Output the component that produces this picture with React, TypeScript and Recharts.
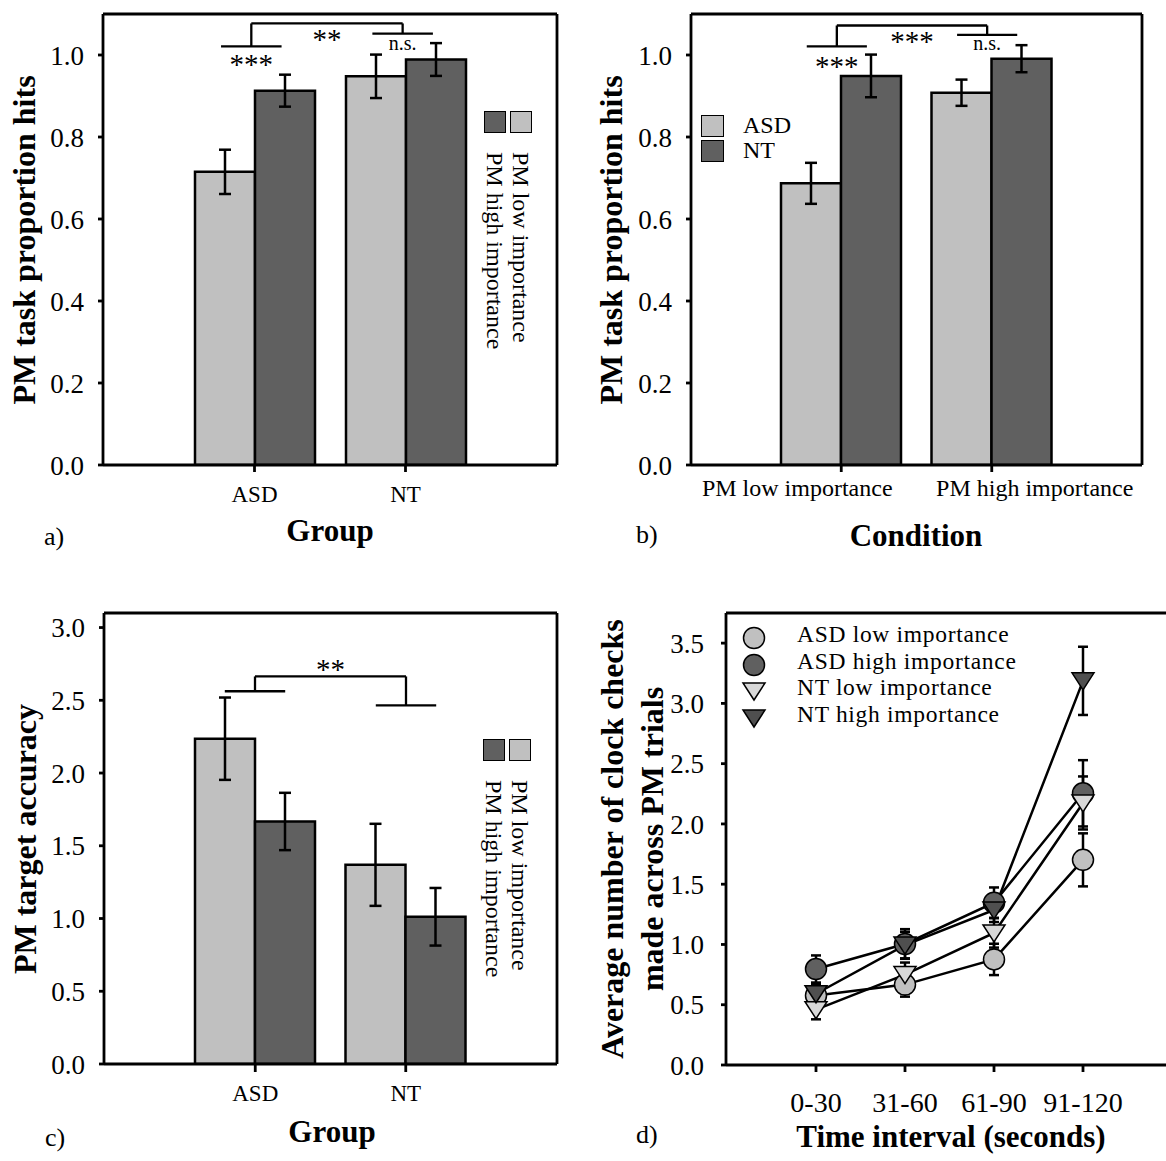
import React from 'react';
import { BarChart, Bar, LineChart, Line, XAxis, YAxis, ErrorBar, ReferenceLine, Legend } from 'recharts';

// a) PM task proportion hits, by group
const groups = ['ASD', 'NT'];
const hitsLowImp = [0.715, 0.948];
const hitsLowImpErr = [0.054, 0.053];
const hitsHighImp = [0.913, 0.989];
const hitsHighImpErr = [0.039, 0.04];

// b) same measure, by condition
const conditions = ['PM low importance', 'PM high importance'];
const hitsAsd = [0.687, 0.908];
const hitsAsdErr = [0.05, 0.032];
const hitsNt = [0.949, 0.991];
const hitsNtErr = [0.052, 0.033];

// c) PM target accuracy, by group
const accLowImp = [2.236, 1.369];
const accLowImpErr = [0.283, 0.282];
const accHighImp = [1.667, 1.012];
const accHighImpErr = [0.197, 0.198];

// d) clock checks per interval
const intervals = ['0-30', '31-60', '61-90', '91-120'];
const asdLow = [0.576, 0.667, 0.876, 1.702];
const asdLowErr = [0.09, 0.1, 0.13, 0.22];
const asdHigh = [0.796, 1.004, 1.347, 2.254];
const asdHighErr = [0.113, 0.123, 0.126, 0.275];
const ntLow = [0.459, 0.75, 1.096, 2.174];
const ntLowErr = [0.08, 0.1, 0.122, 0.22];
const ntHigh = [0.591, 0.995, 1.286, 3.187];
const ntHighErr = [0.09, 0.11, 0.1, 0.283];

const ticksHits = [0, 0.2, 0.4, 0.6, 0.8, 1.0];
const ticksAcc = [0, 0.5, 1, 1.5, 2, 2.5, 3];
const ticksChecks = [0, 0.5, 1, 1.5, 2, 2.5, 3, 3.5];

// significance brackets, in data units of the hidden 0..3 axis (groups sit at 1 and 2)
const bracketA = { left: [0.78, 1.18], leftY: 1.021, mid: [0.98, 1.98], topY: 1.077, right: [1.78, 2.18], rightY: 1.052 };
const bracketB = { left: [0.77, 1.17], leftY: 1.021, mid: [0.97, 1.97], topY: 1.072, right: [1.77, 2.17], rightY: 1.049 };
const bracketC = { left: [0.8, 1.2], leftY: 2.562, mid: [1.0, 2.0], topY: 2.664, right: [1.8, 2.2], rightY: 2.465 };

const dataA = groups.map((g, i) => ({
  group: g, pos: i + 1, low: hitsLowImp[i], lowErr: hitsLowImpErr[i], high: hitsHighImp[i], highErr: hitsHighImpErr[i],
}));
const dataB = conditions.map((c, i) => ({
  cond: c, pos: i + 1, asd: hitsAsd[i], asdErr: hitsAsdErr[i], nt: hitsNt[i], ntErr: hitsNtErr[i],
}));
const dataC = groups.map((g, i) => ({
  group: g, pos: i + 1, low: accLowImp[i], lowErr: accLowImpErr[i], high: accHighImp[i], highErr: accHighImpErr[i],
}));
const dataD = intervals.map((t, i) => ({
  interval: t,
  asdLow: asdLow[i], asdLowErr: asdLowErr[i],
  asdHigh: asdHigh[i], asdHighErr: asdHighErr[i],
  ntLow: ntLow[i], ntLowErr: ntLowErr[i],
  ntHigh: ntHigh[i], ntHighErr: ntHighErr[i],
}));

const FONT = '"Liberation Serif", "Times New Roman", Times, serif';
const LIGHT = '#c0c0c0';
const DARK = '#606060';
const axisStroke = { stroke: '#000', strokeWidth: 2.8 };
const bracketStroke = { stroke: '#000', strokeWidth: 2.3 };
const fmt1 = (v: number) => v.toFixed(1);
const yTick = { fill: '#000', fontSize: 27 };

function VTitle({ lines, x, y, gap = 40 }: { lines: string[]; x: number; y: number; gap?: number }) {
  return (
    <g>
      {lines.map((t, i) => (
        <text key={i} transform={`translate(${x + i * gap},${y}) rotate(-90)`} textAnchor="middle"
          fontSize={32} fontWeight="bold" fill="#000">{t}</text>
      ))}
    </g>
  );
}

function XTitle({ text, x, y, tag, tagX, tagY }: any) {
  return (
    <g>
      <text x={x} y={y} textAnchor="middle" fontSize={31} fontWeight="bold" fill="#000">{text}</text>
      <text x={tagX} y={tagY} fontSize={26} fill="#000">{tag}</text>
    </g>
  );
}

function sortPayload(payload: any[] | undefined, order: string[]) {
  const list = payload || [];
  const items = order.map((k) => list.find((p) => p.dataKey === k)).filter(Boolean);
  return items.length ? items : list;
}

// legend turned 90 degrees clockwise, as in panels a and c
function RotatedLegend({ payload, right, top }: any) {
  const items = sortPayload(payload, ['low', 'high']);
  return (
    <div style={{ position: 'absolute', left: right, top, transform: 'rotate(90deg)', transformOrigin: '0 0', whiteSpace: 'nowrap' }}>
      {items.map((it: any) => (
        <div key={String(it.dataKey)} style={{ display: 'flex', alignItems: 'center', height: 26 }}>
          <div style={{ flexShrink: 0, width: 22, height: 22, boxSizing: 'border-box', border: '1.5px solid #000', background: it.color }} />
          <span style={{ marginLeft: 19, fontSize: 24, lineHeight: '26px', color: '#000' }}>{it.value}</span>
        </div>
      ))}
    </div>
  );
}

function SwatchLegend({ payload }: any) {
  const items = sortPayload(payload, ['asd', 'nt']);
  return (
    <div style={{ position: 'absolute', left: 121, top: 113, whiteSpace: 'nowrap' }}>
      {items.map((it: any) => (
        <div key={String(it.dataKey)} style={{ display: 'flex', alignItems: 'center', height: 25 }}>
          <div style={{ flexShrink: 0, width: 23, height: 22, boxSizing: 'border-box', border: '1.5px solid #000', background: it.color }} />
          <span style={{ marginLeft: 19, fontSize: 24, lineHeight: '25px', color: '#000' }}>{it.value}</span>
        </div>
      ))}
    </div>
  );
}

const seriesD = [
  { key: 'asdLow', name: 'ASD low importance', fill: LIGHT, shape: 'circle' },
  { key: 'asdHigh', name: 'ASD high importance', fill: DARK, shape: 'circle' },
  { key: 'ntLow', name: 'NT low importance', fill: '#d8d8d8', shape: 'tri' },
  { key: 'ntHigh', name: 'NT high importance', fill: '#4f4f4f', shape: 'tri' },
];

function Marker({ shape, fill, cx, cy }: any) {
  if (shape === 'circle') return <circle cx={cx} cy={cy} r={10.5} fill={fill} stroke="#000" strokeWidth={1.5} />;
  return <path d={`M${cx - 11},${cy - 8} L${cx + 11},${cy - 8} L${cx},${cy + 9} Z`} fill={fill} stroke="#000" strokeWidth={1.5} />;
}

function MarkerLegend({ payload }: any) {
  const items = sortPayload(payload, seriesD.map((s) => s.key));
  return (
    <div style={{ position: 'absolute', left: 160, top: 45, whiteSpace: 'nowrap' }}>
      {items.map((it: any) => {
        const s = seriesD.find((d) => d.key === it.dataKey) || seriesD[0];
        return (
          <div key={s.key} style={{ display: 'flex', alignItems: 'center', height: 26.5 }}>
            <svg width={28} height={26} style={{ flexShrink: 0 }}>
              <Marker shape={s.shape} fill={s.fill} cx={14} cy={13} />
            </svg>
            <span style={{ marginLeft: 29, fontSize: 23.5, letterSpacing: 0.7, lineHeight: '26px', position: 'relative', top: -4, color: '#000' }}>{it.value}</span>
          </div>
        );
      })}
    </div>
  );
}

function bracketLines(b: any, labels: { left?: any; top?: any; right?: any }) {
  const seg = (x1: number, y1: number, x2: number, y2: number) => [{ x: x1, y: y1 }, { x: x2, y: y2 }];
  const common = { xAxisId: 'num', ifOverflow: 'visible' as const, ...bracketStroke };
  return [
    <ReferenceLine key="bl" {...common} segment={seg(b.left[0], b.leftY, b.left[1], b.leftY)} label={labels.left} />,
    <ReferenceLine key="bv1" {...common} segment={seg(b.mid[0], b.leftY, b.mid[0], b.topY)} />,
    <ReferenceLine key="bt" {...common} segment={seg(b.mid[0], b.topY, b.mid[1], b.topY)} label={labels.top} />,
    <ReferenceLine key="bv2" {...common} segment={seg(b.mid[1], b.topY, b.mid[1], b.rightY)} />,
    <ReferenceLine key="br" {...common} segment={seg(b.right[0], b.rightY, b.right[1], b.rightY)} label={labels.right} />,
  ];
}

const stars = (value: string, position: string, offset: number) => ({ value, position, offset, fontSize: 29, fill: '#000' });
const ns = (offset: number) => ({ value: 'n.s.', position: 'bottom', offset, fontSize: 20, fill: '#000' });

// hidden numeric axis on top (0..3, groups at 1 and 2) that also draws the frame's top edge
function frameAxes(domainY: [number, number]) {
  return [
    <XAxis key="num" xAxisId="num" dataKey="pos" type="number" orientation="top" domain={[0, 3]} allowDataOverflow height={1}
      tick={false} tickLine={false} axisLine={axisStroke} />,
    <YAxis key="r" yAxisId="r" orientation="right" width={1} domain={domainY} tick={false} tickLine={false} axisLine={axisStroke} />,
  ];
}

function PanelA() {
  return (
    <BarChart width={580} height={580} data={dataA} margin={{ top: 13, right: 22, left: 0, bottom: 0 }} barGap={0}>
      <XAxis dataKey="group" scale="band" padding={{ left: 76, right: 76 }} height={115}
        tick={{ fill: '#000', fontSize: 23 }} tickSize={7} tickMargin={14} tickLine={axisStroke} axisLine={axisStroke}
        label={() => <XTitle text="Group" x={330} y={541} tag="a)" tagX={44} tagY={545} />} />
      <YAxis width={103} domain={[0, 1.1]} allowDataOverflow ticks={ticksHits} tickFormatter={fmt1}
        tick={yTick} tickSize={5} tickMargin={14} tickLine={axisStroke} axisLine={axisStroke}
        label={() => <VTitle lines={['PM task proportion hits']} x={35} y={240} />} />
      {frameAxes([0, 1.1])}
      <Bar dataKey="low" name="PM low importance" fill={LIGHT} stroke="#000" strokeWidth={2.5} barSize={60} isAnimationActive={false}>
        <ErrorBar dataKey="lowErr" width={6} stroke="#000" strokeWidth={2.5} />
      </Bar>
      <Bar dataKey="high" name="PM high importance" fill={DARK} stroke="#000" strokeWidth={2.5} barSize={60} isAnimationActive={false}>
        <ErrorBar dataKey="highErr" width={6} stroke="#000" strokeWidth={2.5} />
      </Bar>
      {bracketLines(bracketA, { left: stars('***', 'bottom', 7), top: stars('**', 'bottom', 5), right: ns(2) })}
      <Legend layout="horizontal" verticalAlign="middle" align="center" wrapperStyle={{ left: 0, top: 0, width: 0, height: 0 }}
        content={(p: any) => <RotatedLegend payload={p.payload} right={534} top={111} />} />
    </BarChart>
  );
}

const tickShiftB = [-44, 43]; // the long condition labels sit apart from their ticks

function PanelB() {
  return (
    <BarChart width={586} height={580} data={dataB} margin={{ top: 13, right: 23, left: 0, bottom: 0 }} barGap={0}>
      <XAxis dataKey="cond" scale="band" padding={{ left: 75, right: 75 }} height={115}
        tickSize={7} tickMargin={7} tickLine={axisStroke} axisLine={axisStroke}
        tick={(p: any) => (
          <text x={p.x + (tickShiftB[p.index] || 0)} y={p.y} dy="0.71em" textAnchor="middle" fontSize={24} fill="#000">
            {p.payload.value}
          </text>
        )}
        label={() => <XTitle text="Condition" x={336} y={546} tag="b)" tagX={56} tagY={543} />} />
      <YAxis width={111} domain={[0, 1.1]} allowDataOverflow ticks={ticksHits} tickFormatter={fmt1}
        tick={yTick} tickSize={5} tickMargin={14} tickLine={axisStroke} axisLine={axisStroke}
        label={() => <VTitle lines={['PM task proportion hits']} x={42} y={240} />} />
      {frameAxes([0, 1.1])}
      <Bar dataKey="asd" name="ASD" fill={LIGHT} stroke="#000" strokeWidth={2.5} barSize={60} isAnimationActive={false}>
        <ErrorBar dataKey="asdErr" width={6} stroke="#000" strokeWidth={2.5} />
      </Bar>
      <Bar dataKey="nt" name="NT" fill={DARK} stroke="#000" strokeWidth={2.5} barSize={60} isAnimationActive={false}>
        <ErrorBar dataKey="ntErr" width={6} stroke="#000" strokeWidth={2.5} />
      </Bar>
      {bracketLines(bracketB, { left: stars('***', 'bottom', 9), top: stars('***', 'bottom', 5), right: ns(1) })}
      <Legend layout="horizontal" verticalAlign="middle" align="center" wrapperStyle={{ left: 0, top: 0, width: 0, height: 0 }}
        content={(p: any) => <SwatchLegend payload={p.payload} />} />
    </BarChart>
  );
}

function PanelC() {
  return (
    <BarChart width={580} height={581} data={dataC} margin={{ top: 32, right: 22, left: 0, bottom: 0 }} barGap={0}>
      <XAxis dataKey="group" scale="band" padding={{ left: 76, right: 76 }} height={97}
        tick={{ fill: '#000', fontSize: 23 }} tickSize={8} tickMargin={13} tickLine={axisStroke} axisLine={axisStroke}
        label={() => <XTitle text="Group" x={332} y={562} tag="c)" tagX={45} tagY={566} />} />
      <YAxis width={104} domain={[0, 3.1]} allowDataOverflow ticks={ticksAcc} tickFormatter={fmt1}
        tick={yTick} tickSize={5} tickMargin={14} tickLine={axisStroke} axisLine={axisStroke}
        label={() => <VTitle lines={['PM target accuracy']} x={36} y={259} />} />
      {frameAxes([0, 3.1])}
      <Bar dataKey="low" name="PM low importance" fill={LIGHT} stroke="#000" strokeWidth={2.5} barSize={60} isAnimationActive={false}>
        <ErrorBar dataKey="lowErr" width={6} stroke="#000" strokeWidth={2.5} />
      </Bar>
      <Bar dataKey="high" name="PM high importance" fill={DARK} stroke="#000" strokeWidth={2.5} barSize={60} isAnimationActive={false}>
        <ErrorBar dataKey="highErr" width={6} stroke="#000" strokeWidth={2.5} />
      </Bar>
      {bracketLines(bracketC, { top: stars('**', 'top', -3) })}
      <Legend layout="horizontal" verticalAlign="middle" align="center" wrapperStyle={{ left: 0, top: 0, width: 0, height: 0 }}
        content={(p: any) => <RotatedLegend payload={p.payload} right={533} top={159} />} />
    </BarChart>
  );
}

const dotFor = (shape: string, fill: string) => (p: any) => (
  <Marker key={`m-${p.index}`} shape={shape} fill={fill} cx={p.cx} cy={p.cy} />
);

function PanelD() {
  return (
    <LineChart width={600} height={581} data={dataD} margin={{ top: 32, right: 8, left: 0, bottom: 0 }}>
      <XAxis dataKey="interval" scale="point" padding={{ left: 90, right: 88 }} height={96}
        tick={{ fill: '#000', fontSize: 28 }} tickSize={7} tickMargin={20} tickLine={axisStroke} axisLine={axisStroke}
        label={() => <XTitle text="Time interval (seconds)" x={371} y={567} tag="d)" tagX={56} tagY={563} />} />
      <XAxis xAxisId="top" orientation="top" dataKey="interval" scale="point" height={1} tick={false} tickLine={false} axisLine={axisStroke} />
      <YAxis width={146} domain={[0, 3.75]} allowDataOverflow ticks={ticksChecks} tickFormatter={fmt1}
        tick={yTick} tickSize={5} tickMargin={17} tickLine={axisStroke} axisLine={axisStroke}
        label={() => <VTitle lines={['Average number of clock checks', 'made across PM trials']} x={43} y={259} gap={40} />} />
      <YAxis yAxisId="r" orientation="right" width={1} domain={[0, 3.75]} tick={false} tickLine={false} axisLine={axisStroke} />
      {seriesD.map((s) => (
        <Line key={s.key} dataKey={s.key} name={s.name} stroke="#000" strokeWidth={2.5}
          dot={dotFor(s.shape, s.fill)} activeDot={false} isAnimationActive={false}>
          <ErrorBar dataKey={`${s.key}Err`} width={5} stroke="#000" strokeWidth={2.5} />
        </Line>
      ))}
      <Legend layout="horizontal" verticalAlign="middle" align="center" wrapperStyle={{ left: 0, top: 0, width: 0, height: 0 }}
        content={(p: any) => <MarkerLegend payload={p.payload} />} />
    </LineChart>
  );
}

export default function App() {
  const cell = (left: number, top: number): React.CSSProperties => ({ position: 'absolute', left, top });
  return (
    <div style={{ position: 'absolute', left: 0, top: 0, width: 1166, height: 1161, overflow: 'hidden', background: '#fff', fontFamily: FONT }}>
      <div style={cell(0, 0)}><PanelA /></div>
      <div style={cell(580, 0)}><PanelB /></div>
      <div style={cell(0, 580)}><PanelC /></div>
      <div style={cell(580, 580)}><PanelD /></div>
    </div>
  );
}
